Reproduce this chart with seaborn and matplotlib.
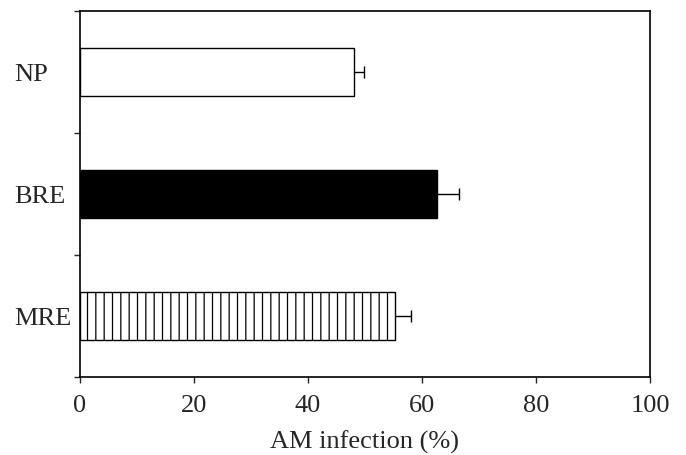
import numpy as np
import pandas as pd
import matplotlib
matplotlib.use("Agg")
import matplotlib.pyplot as plt
import seaborn as sns

treatments = ["NP", "BRE", "MRE"]
infection = [48.1, 62.7, 55.3]
infection_se = [1.8, 3.8, 2.7]
bar_colors = ["white", "black", "white"]
bar_hatches = ["", "", "||"]
x_ticks = [0, 20, 40, 60, 80, 100]

sns.set_style("ticks")
plt.rcParams["font.family"] = ["Liberation Serif", "DejaVu Serif"]
plt.rcParams["hatch.color"] = "#222222"
plt.rcParams["hatch.linewidth"] = 0.9

df = pd.DataFrame({"treatment": treatments, "infection": infection})

fig, ax = plt.subplots(figsize=(6.86, 4.56), dpi=100)
fig.subplots_adjust(left=0.1166, right=0.9475, top=0.9737, bottom=0.1711)

sns.barplot(data=df, x="infection", y="treatment", hue="treatment",
            palette=bar_colors, width=0.4, edgecolor="black", linewidth=1.0,
            legend=False, ax=ax)
for patch, h in zip(ax.patches, bar_hatches):
    patch.set_hatch(h)

# one-sided error bars (cap only at the outer end)
pos = np.arange(len(treatments))
eb = ax.errorbar(infection, pos, xerr=[np.zeros(len(pos)), infection_se],
                 fmt="none", ecolor="black", elinewidth=1.0, capsize=4, capthick=1.0)
eb[1][0].set_visible(False)

ax.set_xlim(0, 100)
ax.set_ylim(2.5, -0.5)
ax.set_xticks(x_ticks)
ax.set_xlabel("AM infection (%)", fontsize=19, labelpad=10)
ax.set_ylabel("")
ax.tick_params(axis="x", labelsize=19, length=4, width=1.0, direction="out", pad=8)
ax.set_yticks(pos)
ax.set_yticklabels(treatments)
ax.tick_params(axis="y", which="major", labelsize=19, length=0, pad=47)
for lab in ax.get_yticklabels():
    lab.set_horizontalalignment("left")
ax.set_yticks([-0.5, 0.5, 1.5, 2.5], minor=True)
ax.tick_params(axis="y", which="minor", length=4, width=1.0)

for s in ax.spines.values():
    s.set_visible(True)
    s.set_linewidth(1.2)
    s.set_color("black")

fig.savefig("out.png", dpi=100)
